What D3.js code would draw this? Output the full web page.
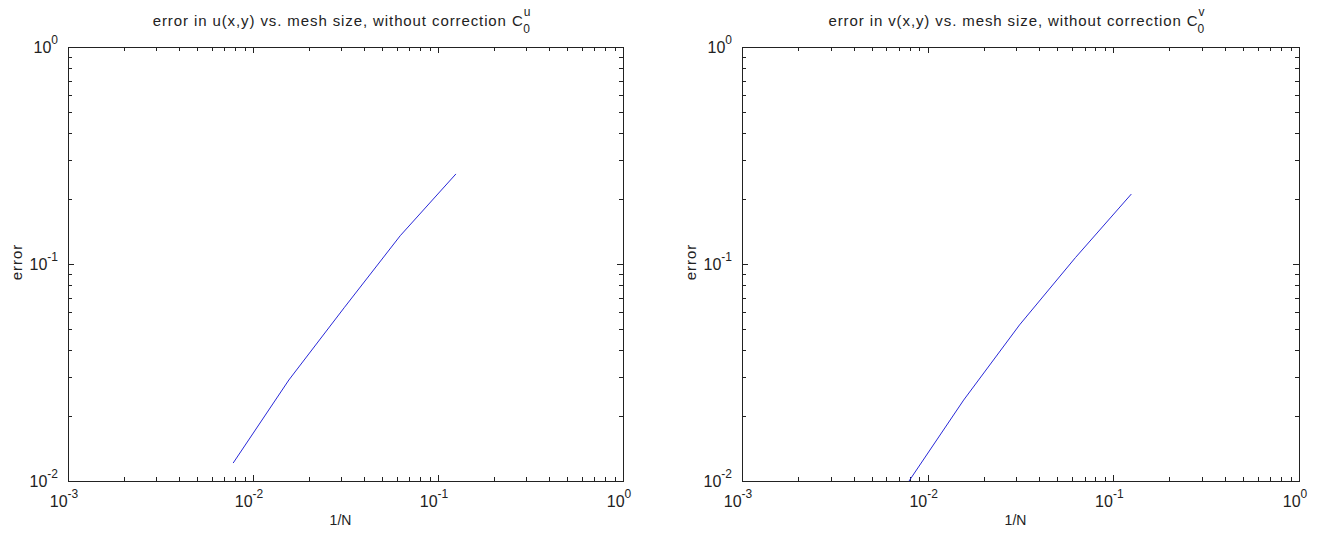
<!DOCTYPE html>
<html>
<head>
<meta charset="utf-8">
<script src="https://cdn.jsdelivr.net/npm/d3@7"></script>
<style>
  body { margin: 0; background: #fff; }
  svg { display: block; }
  text { font-family: "Liberation Sans", Arial, sans-serif; fill: #222; }
</style>
</head>
<body>
<svg id="chart" width="1322" height="536"></svg>
<script>
// mesh sizes N, plotted as 1/N
const N = [8, 16, 32, 64, 128]
const errU = [0.26, 0.135, 0.0632, 0.0292, 0.0121]
const errV = [0.21, 0.107, 0.0524, 0.0236, 0.0098]
const xExp = [-3, -2, -1, 0]
const yExp = [-2, -1, 0]

const svg = d3.select('#chart')

const panels = [
  { id: 'u', vals: errU, sup: 'u', left: 68, right: 623 },
  { id: 'v', vals: errV, sup: 'v', left: 742, right: 1299 }
]
const plotTop = 47, plotBottom = 481

function tenLabel(sel, e, anchor) {
  sel.attr('text-anchor', anchor)
  sel.append('tspan').text('10')
  sel.append('tspan').attr('dy', -9).attr('font-size', 12).text(e)
}

panels.forEach(p => {
  const x = d3.scaleLog().domain([1e-3, 1]).range([p.left, p.right])
  const y = d3.scaleLog().domain([1e-2, 1]).range([plotBottom, plotTop])
  const g = svg.append('g')
  const w = p.right - p.left, h = plotBottom - plotTop

  g.append('clipPath').attr('id', 'clip-' + p.id)
    .append('rect').attr('x', p.left).attr('y', plotTop).attr('width', w).attr('height', h)

  // ticks (inward, on all four sides)
  const isMajor = v => Math.abs(Math.log10(v) - Math.round(Math.log10(v))) < 1e-9
  const xt = x.ticks(), yt = y.ticks()
  const tk = g.append('g').attr('stroke', '#222').attr('stroke-width', 1)
  xt.forEach(v => {
    const px = Math.round(x(v)) + 0.5, len = isMajor(v) ? 6 : 4
    tk.append('line').attr('x1', px).attr('x2', px).attr('y1', plotBottom).attr('y2', plotBottom - len)
    tk.append('line').attr('x1', px).attr('x2', px).attr('y1', plotTop).attr('y2', plotTop + len)
  })
  yt.forEach(v => {
    const py = Math.round(y(v)) + 0.5, len = isMajor(v) ? 6 : 4
    tk.append('line').attr('y1', py).attr('y2', py).attr('x1', p.left).attr('x2', p.left + len)
    tk.append('line').attr('y1', py).attr('y2', py).attr('x1', p.right).attr('x2', p.right - len)
  })

  g.append('rect')
    .attr('x', p.left + 0.5).attr('y', plotTop + 0.5).attr('width', w).attr('height', h)
    .attr('fill', 'none').attr('stroke', '#222')

  // tick labels
  xExp.forEach(e => {
    g.append('text').attr('x', x(Math.pow(10, e)) - 4).attr('y', plotBottom + 26)
      .attr('font-size', 16).call(tenLabel, e, 'middle')
  })
  yExp.forEach(e => {
    g.append('text').attr('x', p.left - 10).attr('y', y(Math.pow(10, e)) + 6)
      .attr('font-size', 16).call(tenLabel, e, 'end')
  })

  // data line
  const line = d3.line().x((d, i) => x(1 / N[i])).y(d => y(d))
  g.append('path').datum(p.vals)
    .attr('clip-path', 'url(#clip-' + p.id + ')')
    .attr('d', line).attr('fill', 'none').attr('stroke', '#2828d8').attr('stroke-width', 1)

  // labels
  const cx = (p.left + p.right) / 2
  g.append('text').attr('x', cx - 5).attr('y', plotBottom + 44).attr('text-anchor', 'middle')
    .attr('font-size', 14).text('1/N')
  g.append('text').attr('transform', `translate(${p.left - 46},${(plotTop + plotBottom) / 2 - 2}) rotate(-90)`)
    .attr('text-anchor', 'middle').attr('font-size', 15).attr('letter-spacing', 1).text('error')

  const t = g.append('text').attr('x', cx - 4).attr('y', 26).attr('text-anchor', 'middle')
    .attr('font-size', 15).attr('letter-spacing', 0.9)
  t.append('tspan').text(`error in ${p.id}(x,y) vs. mesh size, without correction C`)
  t.append('tspan').attr('font-size', 12).attr('letter-spacing', 0).attr('dy', -10).text(p.sup)
  t.append('tspan').attr('font-size', 12).attr('letter-spacing', 0).attr('dx', -7).attr('dy', 17).text('0')
})
</script>
</body>
</html>
